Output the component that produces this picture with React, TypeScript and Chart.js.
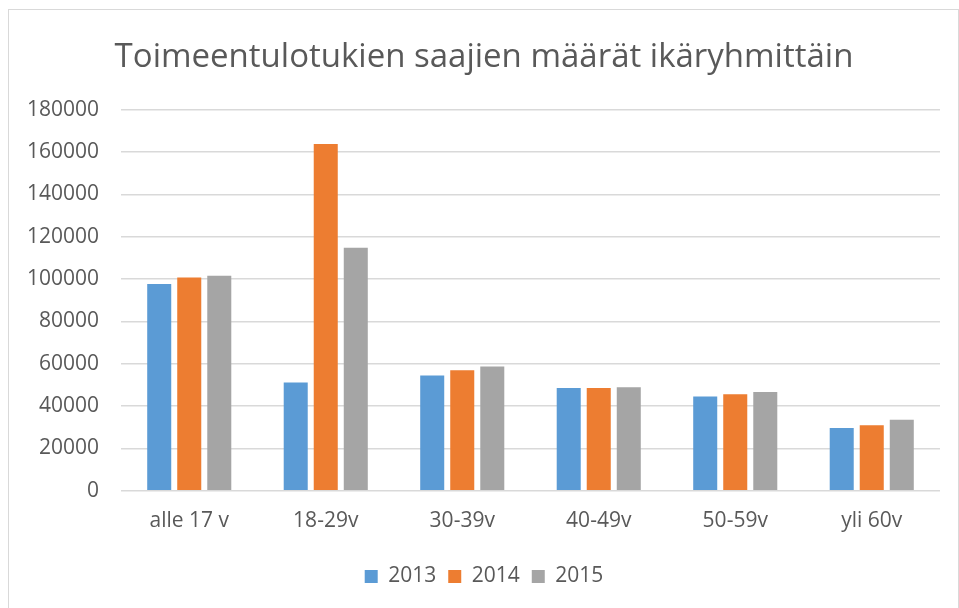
import React, { useEffect, useRef } from "react";
import { Chart, registerables } from "chart.js";

Chart.register(...registerables);

const categories = ["alle 17 v", "18-29v", "30-39v", "40-49v", "50-59v", "yli 60v"];
const series2013 = [97600, 51100, 54500, 48500, 44500, 29600];
const series2014 = [100700, 163700, 56900, 48500, 45600, 30900];
const series2015 = [101500, 114800, 58700, 48900, 46700, 33500];
const seriesNames = ["2013", "2014", "2015"];
const titleText = "Toimeentulotukien saajien määrät ikäryhmittäin";

const FONT = "'Open Sans', sans-serif";
const TEXT = "#595959";

export default function App() {
  const ref = useRef<HTMLCanvasElement | null>(null);
  useEffect(() => {
    if (!ref.current) return;
    const chart = new Chart(ref.current, {
      type: "bar",
      data: {
        labels: categories,
        datasets: [
          { label: seriesNames[0], data: series2013, backgroundColor: "#5B9BD5" },
          { label: seriesNames[1], data: series2014, backgroundColor: "#ED7D31" },
          { label: seriesNames[2], data: series2015, backgroundColor: "#A5A5A5" },
        ],
      },
      options: {
        animation: false,
        responsive: false,
        maintainAspectRatio: false,
        layout: { padding: { left: 19, right: 18, top: 0, bottom: 31 } },
        datasets: { bar: { categoryPercentage: 0.66, barPercentage: 0.8 } },
        plugins: {
          title: {
            display: true,
            text: titleText,
            color: TEXT,
            font: { family: FONT, size: 33, weight: "normal" },
            padding: { top: 28, bottom: 32 },
          },
          legend: {
            position: "bottom",
            labels: {
              color: TEXT,
              font: { family: FONT, size: 21 },
              boxWidth: 13,
              boxHeight: 13,
              padding: 12,
            },
          },
          tooltip: { enabled: false },
        },
        scales: {
          x: {
            grid: { display: false },
            border: { display: false },
            ticks: { color: TEXT, font: { family: FONT, size: 21 }, padding: 10 },
            afterFit: (s: any) => {
              s.height += 10;
            },
          },
          y: {
            min: 0,
            max: 180000,
            grid: { color: "#D9D9D9", lineWidth: 1.5, drawTicks: false },
            border: { display: false },
            ticks: {
              stepSize: 20000,
              color: TEXT,
              font: { family: FONT, size: 21 },
              padding: 22,
              callback: (v: any) => String(v),
            },
            afterFit: (s: any) => {
              s.width = 93;
            },
          },
        },
      },
    });
    return () => chart.destroy();
  }, []);
  return (
    <div
      style={{
        position: "fixed",
        left: 8,
        top: 9,
        width: 949,
        height: 640,
        border: "1px solid #D9D9D9",
        background: "#fff",
      }}
    >
      <canvas ref={ref} width={949} height={618} style={{ display: "block" }} />
    </div>
  );
}
